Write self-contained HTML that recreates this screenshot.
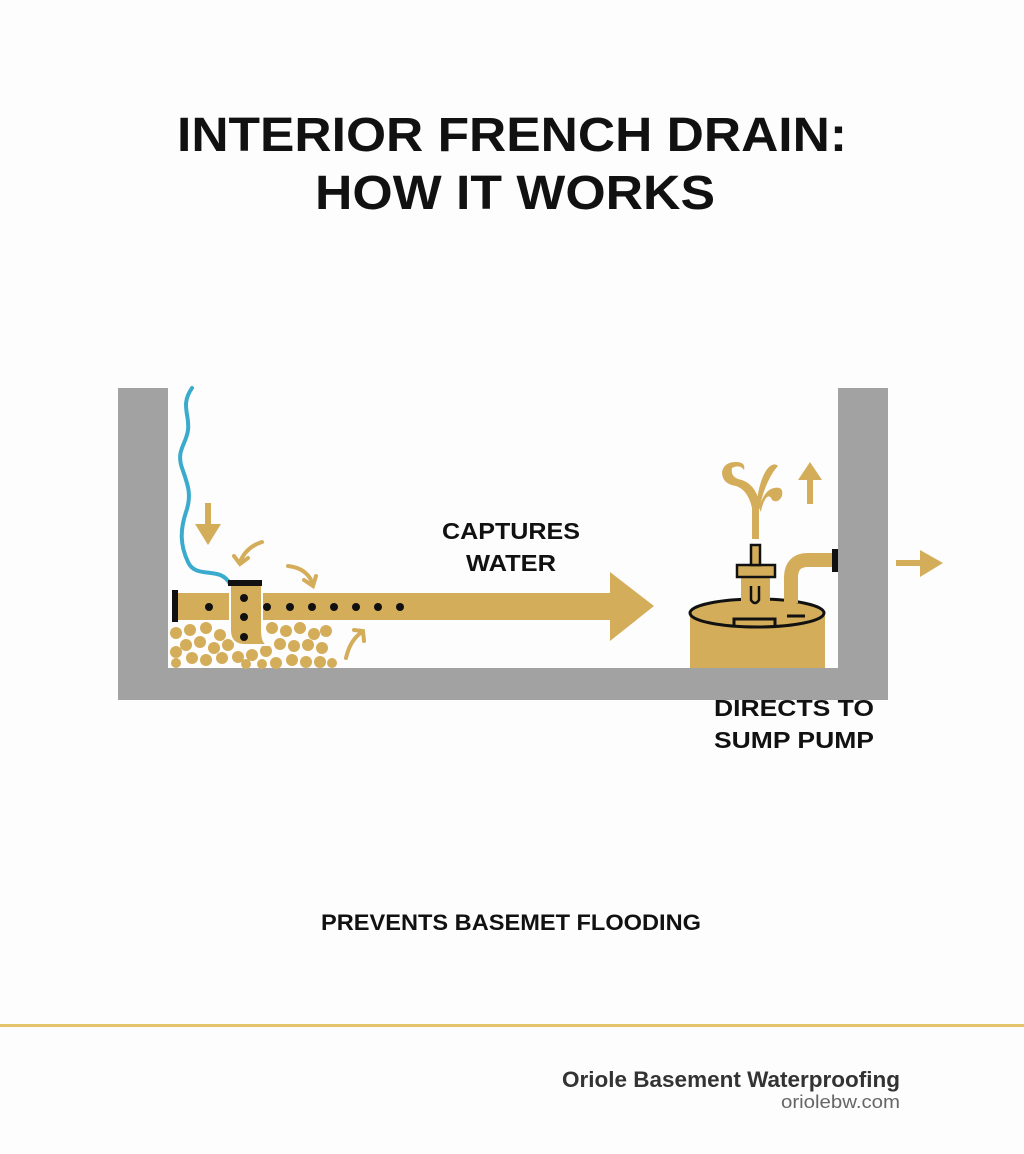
<!DOCTYPE html>
<html><head><meta charset="utf-8"><style>
html,body{margin:0;padding:0;background:#fdfdfd;}
svg{display:block;}
text{font-family:"Liberation Sans",sans-serif;font-weight:bold;fill:#111;}
</style></head><body>
<svg width="1024" height="1154" viewBox="0 0 1024 1154" xmlns="http://www.w3.org/2000/svg">
<rect width="1024" height="1154" fill="#fdfdfd"/>
<text x="512" y="151" font-size="48" text-anchor="middle" textLength="670" lengthAdjust="spacingAndGlyphs">INTERIOR FRENCH DRAIN:</text>
<text x="515" y="209" font-size="48" text-anchor="middle" textLength="400" lengthAdjust="spacingAndGlyphs">HOW IT WORKS</text>

<g fill="#a2a2a2">
<rect x="118" y="388" width="50" height="312"/>
<rect x="118" y="668" width="770" height="32"/>
<rect x="838" y="388" width="50" height="312"/>
</g>

<g fill="#d4ad5a">
<circle cx="176" cy="633" r="6"/><circle cx="190" cy="630" r="6"/><circle cx="206" cy="628" r="6"/><circle cx="220" cy="635" r="6"/><circle cx="186" cy="645" r="6"/><circle cx="200" cy="642" r="6"/><circle cx="214" cy="648" r="6"/><circle cx="228" cy="645" r="6"/><circle cx="176" cy="652" r="6"/><circle cx="192" cy="658" r="6"/><circle cx="206" cy="660" r="6"/><circle cx="222" cy="658" r="6"/><circle cx="238" cy="657" r="6"/><circle cx="176" cy="663" r="5"/><circle cx="252" cy="655" r="6"/><circle cx="266" cy="651" r="6"/><circle cx="276" cy="663" r="6"/><circle cx="262" cy="664" r="5"/><circle cx="246" cy="664" r="5"/><circle cx="272" cy="628" r="6"/><circle cx="286" cy="631" r="6"/><circle cx="300" cy="628" r="6"/><circle cx="314" cy="634" r="6"/><circle cx="326" cy="631" r="6"/><circle cx="280" cy="644" r="6"/><circle cx="294" cy="646" r="6"/><circle cx="308" cy="645" r="6"/><circle cx="322" cy="648" r="6"/><circle cx="292" cy="660" r="6"/><circle cx="306" cy="662" r="6"/><circle cx="320" cy="662" r="6"/><circle cx="332" cy="663" r="5"/><circle cx="258" cy="640" r="6"/>
</g>

<path d="M192 388 C180 405,190 415,188 430 C186 445,176 450,182 468 C188 485,192 495,186 512 C180 530,180 545,188 562 C196 580,220 565,230 584" fill="none" stroke="#3aabcc" stroke-width="4" stroke-linecap="round"/>

<rect x="178" y="593" width="434" height="27" fill="#d4ad5a"/>
<polygon points="610,572 654,606 610,641" fill="#d4ad5a"/>
<rect x="172" y="590" width="6" height="32" fill="#111"/>
<path d="M230 584 L262 584 L262 630 Q262 645 270 645 L245 645 Q230 645 230 630 Z" fill="#d4ad5a" stroke="#fdfdfd" stroke-width="2"/>
<rect x="228" y="580" width="34" height="6" fill="#111"/>
<g fill="#111">
<circle cx="209" cy="607" r="4"/><circle cx="267" cy="607" r="4"/><circle cx="290" cy="607" r="4"/><circle cx="312" cy="607" r="4"/><circle cx="334" cy="607" r="4"/><circle cx="356" cy="607" r="4"/><circle cx="378" cy="607" r="4"/><circle cx="400" cy="607" r="4"/>
<circle cx="244" cy="598" r="4"/><circle cx="244" cy="617" r="4"/><circle cx="244" cy="637" r="4"/>
</g>

<g fill="#d4ad5a">
<rect x="205" y="503" width="6" height="22"/>
<polygon points="195,524 221,524 208,545"/>
</g>
<g fill="none" stroke="#d4ad5a" stroke-width="4" stroke-linecap="round">
<path d="M262 542 Q246 547,240 562"/><path d="M234 556 L240 564 L248 558"/>
<path d="M288 566 Q306 568,312 582"/><path d="M304 580 L313 586 L316 576"/>
<path d="M346 658 Q350 640,362 632"/><path d="M354 630 L363 631 L364 641"/>
</g>

<rect x="690" y="613" width="135" height="55" fill="#d4ad5a"/>
<ellipse cx="757" cy="613" rx="67" ry="14" fill="#d4ad5a" stroke="#111" stroke-width="3"/>
<path d="M734 625 L734 619 L775 619 L775 625" fill="none" stroke="#111" stroke-width="3"/>
<line x1="787" y1="616" x2="805" y2="616" stroke="#111" stroke-width="3"/>
<rect x="741" y="577" width="29" height="30" fill="#d4ad5a"/>
<path d="M751 586 L751 600 Q755 606 759 600 L759 586" fill="none" stroke="#111" stroke-width="2.5"/>
<rect x="737" y="565" width="38" height="12" fill="#d4ad5a" stroke="#111" stroke-width="2.5"/>
<rect x="751" y="545" width="9" height="20" fill="#d4ad5a" stroke="#111" stroke-width="2.5"/>
<path d="M791 603 L791 578 Q791 560 808 560 L834 560" fill="none" stroke="#d4ad5a" stroke-width="14"/>
<rect x="832" y="549" width="6" height="23" fill="#111"/>
<g fill="#d4ad5a">
<rect x="752" y="505" width="7" height="34"/>
<path d="M752 508 Q748 490 736 486 Q722 484 722 472 Q724 462 736 462 Q746 462 744 470 Q740 464 732 468 Q730 478 742 480 Q758 486 760 508 Z"/>
<path d="M757 500 Q760 478 768 468 Q774 462 778 466 Q772 472 766 486 Q762 496 760 506 Z"/>
<path d="M759 508 Q764 490 774 488 Q784 486 782 496 Q778 504 772 500 Q770 494 766 498 Q762 504 761 512 Z"/>
<rect x="807" y="478" width="6" height="26"/>
<polygon points="798,480 822,480 810,462"/>
<rect x="896" y="560" width="26" height="6"/>
<polygon points="920,550 943,563 920,577"/>
</g>

<text x="511" y="539" font-size="23" text-anchor="middle" textLength="138" lengthAdjust="spacingAndGlyphs">CAPTURES</text>
<text x="511" y="571" font-size="23" text-anchor="middle" textLength="90" lengthAdjust="spacingAndGlyphs">WATER</text>
<text x="714" y="716" font-size="23" textLength="160" lengthAdjust="spacingAndGlyphs">DIRECTS TO</text>
<text x="714" y="748" font-size="23" textLength="160" lengthAdjust="spacingAndGlyphs">SUMP PUMP</text>
<text x="511" y="930" font-size="22" text-anchor="middle" textLength="380" lengthAdjust="spacingAndGlyphs">PREVENTS BASEMET FLOODING</text>

<rect x="0" y="1024" width="1024" height="3" fill="#e3c46a"/>
<text x="900" y="1087" font-size="22" text-anchor="end" style="fill:#333" textLength="338" lengthAdjust="spacingAndGlyphs">Oriole Basement Waterproofing</text>
<text x="900" y="1108" font-size="18" text-anchor="end" style="fill:#666;font-weight:normal" textLength="119" lengthAdjust="spacingAndGlyphs">oriolebw.com</text>
</svg>
</body></html>
